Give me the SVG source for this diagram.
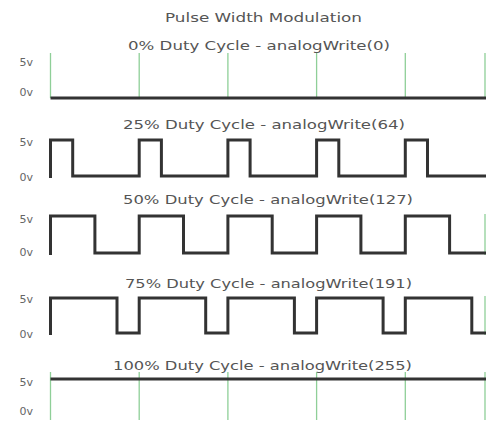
<svg xmlns="http://www.w3.org/2000/svg" width="486" height="423" viewBox="0 0 486 423">
<style>
.t{font-family:"DejaVu Sans","Liberation Sans",sans-serif;font-size:13px;fill:#555}
.lbl{font-family:"DejaVu Sans","Liberation Sans",sans-serif;font-size:11px;fill:#666;text-anchor:end}
.g{stroke:#8fcf98;stroke-width:1.3;fill:none}
.w{stroke:#333;stroke-width:3;fill:none;stroke-linejoin:miter}
</style>
<rect width="486" height="423" fill="#fff"/>
<text class="t" x="165" y="22" textLength="197" lengthAdjust="spacingAndGlyphs">Pulse Width Modulation</text>

<g id="panel0">
<text class="t" x="128" y="50" textLength="262" lengthAdjust="spacingAndGlyphs">0% Duty Cycle - analogWrite(0)</text>
<text class="lbl" x="33" y="66">5v</text>
<text class="lbl" x="33" y="96">0v</text>
<path class="g" d="M50.5,53V98M139.2,53V98M227.9,53V98M316.6,53V98M405.3,53V98M485,53V98"/>
<path class="w" d="M50.5,98H486"/>
</g>

<g id="panel25">
<text class="t" x="123" y="129" textLength="282" lengthAdjust="spacingAndGlyphs">25% Duty Cycle - analogWrite(64)</text>
<text class="lbl" x="33" y="146">5v</text>
<text class="lbl" x="33" y="181">0v</text>
<path class="w" d="M50.5,178V140H72.7V176H139.2V140H161.4V176H227.9V140H250.1V176H316.6V140H338.8V176H405.3V140H427.5V176H486"/>
</g>

<g id="panel50">
<text class="t" x="123" y="204" textLength="290" lengthAdjust="spacingAndGlyphs">50% Duty Cycle - analogWrite(127)</text>
<text class="lbl" x="33" y="223">5v</text>
<text class="lbl" x="33" y="256">0v</text>
<path class="g" d="M485,214V255"/>
<path class="w" d="M50.5,255V216H94.9V253H139.2V216H183.5V253H227.9V216H272.2V253H316.6V216H360.9V253H405.3V216H449.6V253H486"/>
</g>

<g id="panel75">
<text class="t" x="125" y="288" textLength="287" lengthAdjust="spacingAndGlyphs">75% Duty Cycle - analogWrite(191)</text>
<text class="lbl" x="33" y="303">5v</text>
<text class="lbl" x="33" y="338">0v</text>
<path class="g" d="M485,296V335"/>
<path class="w" d="M50.5,335V298H117V333H139.2V298H205.7V333H227.9V298H294.4V333H316.6V298H383.1V333H405.3V298H471.8V333H486"/>
</g>

<g id="panel100">
<text class="t" x="113" y="370" textLength="299" lengthAdjust="spacingAndGlyphs">100% Duty Cycle - analogWrite(255)</text>
<text class="lbl" x="33" y="386">5v</text>
<text class="lbl" x="33" y="415">0v</text>
<path class="g" d="M50.5,372V420M139.2,372V420M227.9,372V420M316.6,372V420M405.3,372V420M485,372V420"/>
<path class="w" d="M50.5,379H486"/>
</g>
</svg>
